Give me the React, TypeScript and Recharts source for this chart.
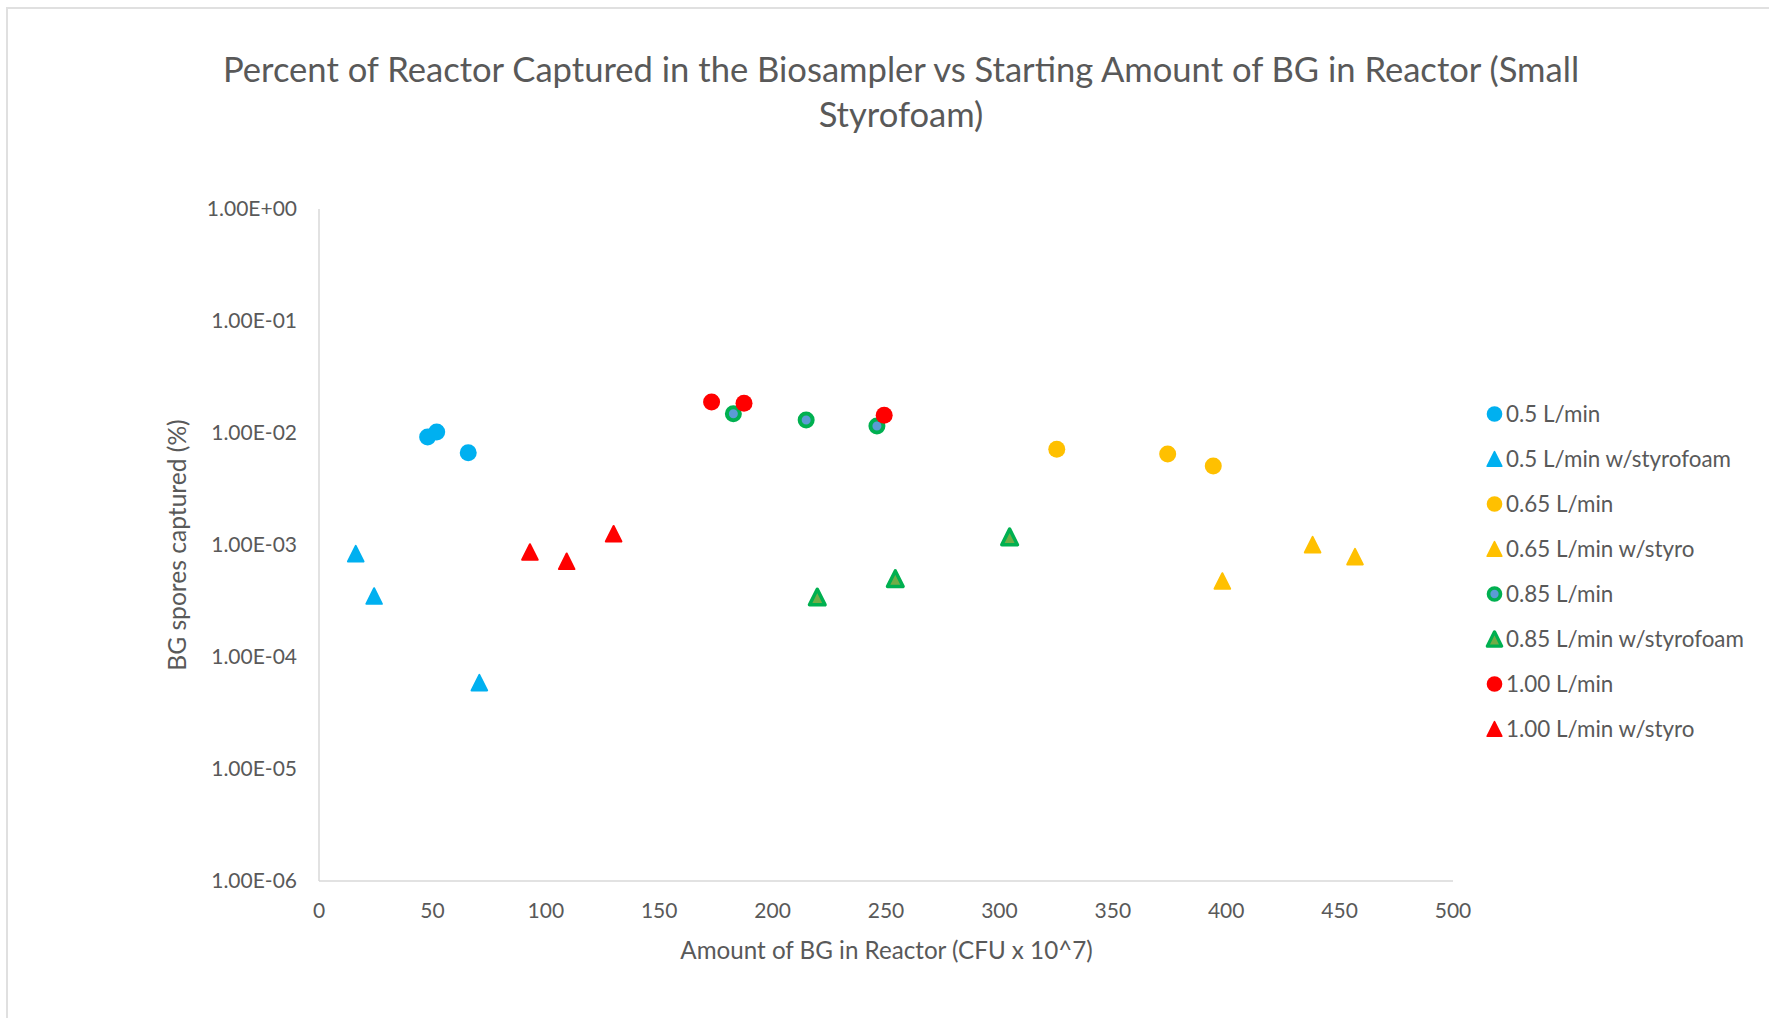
import React from "react"
import { ScatterChart, Scatter, XAxis, YAxis } from "recharts"

// x = amount of BG in reactor (CFU x 10^7), y = fraction of spores captured
const flow05X = [47.9, 51.9, 65.8]
const flow05Y = [0.0092, 0.0102, 0.00667]
const flow05StyroX = [16.2, 24.3, 70.7]
const flow05StyroY = [0.000836, 0.00035, 0.000059]
const flow065X = [325.3, 374.2, 394.3]
const flow065Y = [0.00715, 0.0065, 0.00507]
const flow065StyroX = [398.3, 438.1, 456.8]
const flow065StyroY = [0.000477, 0.001006, 0.000787]
const flow085X = [182.7, 214.8, 246.0]
const flow085Y = [0.01486, 0.01306, 0.01155]
const flow085StyroX = [219.7, 254.1, 304.5]
const flow085StyroY = [0.000343, 0.0005, 0.00118]
const flow100X = [173.1, 187.4, 249.2]
const flow100Y = [0.0189, 0.0184, 0.0144]
const flow100StyroX = [93.0, 109.2, 129.9]
const flow100StyroY = [0.000866, 0.000715, 0.00126]

const xTicks = [0, 50, 100, 150, 200, 250, 300, 350, 400, 450, 500]
const yTicks = [1e-6, 1e-5, 1e-4, 1e-3, 1e-2, 1e-1, 1]

const TEXT = "#595959"
const FONT = "Lato, 'Open Sans', sans-serif"

type Mark = "circle" | "triangle"
type SeriesDef = { name: string; xs: number[]; ys: number[]; mark: Mark; fill: string; stroke?: string }

const series: SeriesDef[] = [
  { name: "0.5 L/min", xs: flow05X, ys: flow05Y, mark: "circle", fill: "#00B0F0" },
  { name: "0.5 L/min w/styrofoam", xs: flow05StyroX, ys: flow05StyroY, mark: "triangle", fill: "#00B0F0" },
  { name: "0.65 L/min", xs: flow065X, ys: flow065Y, mark: "circle", fill: "#FFC000" },
  { name: "0.65 L/min w/styro", xs: flow065StyroX, ys: flow065StyroY, mark: "triangle", fill: "#FFC000" },
  { name: "0.85 L/min", xs: flow085X, ys: flow085Y, mark: "circle", fill: "#5B9BD5", stroke: "#00B050" },
  { name: "0.85 L/min w/styrofoam", xs: flow085StyroX, ys: flow085StyroY, mark: "triangle", fill: "#70AD47", stroke: "#00B050" },
  { name: "1.00 L/min", xs: flow100X, ys: flow100Y, mark: "circle", fill: "#FF0000" },
  { name: "1.00 L/min w/styro", xs: flow100StyroX, ys: flow100StyroY, mark: "triangle", fill: "#FF0000" },
]

const toPoints = (xs: number[], ys: number[]) => xs.map((x, i) => ({ x, y: ys[i] }))

const sci = (v: number) => {
  const e = Math.round(Math.log10(v))
  return `1.00E${e < 0 ? "-" : "+"}${String(Math.abs(e)).padStart(2, "0")}`
}

function Marker({ s, cx, cy, k = 1 }: { s: SeriesDef; cx: number; cy: number; k?: number }) {
  if (s.mark === "circle") {
    return s.stroke
      ? <circle cx={cx} cy={cy} r={6.5 * k} fill={s.fill} stroke={s.stroke} strokeWidth={4 * k} />
      : <circle cx={cx} cy={cy} r={8.5 * k} fill={s.fill} />
  }
  const h = 7.8 * k
  const d = `M${cx},${cy - h} L${cx + h},${cy + h} L${cx - h},${cy + h} Z`
  return s.stroke
    ? <path d={d} fill={s.fill} stroke={s.stroke} strokeWidth={3.5 * k} strokeLinejoin="round" />
    : <path d={d} fill={s.fill} stroke={s.fill} strokeWidth={2 * k} strokeLinejoin="round" />
}

function Legend() {
  return (
    <div style={{ position: "absolute", left: 1484, top: 402, fontFamily: FONT, fontSize: 22.4, color: TEXT }}>
      {series.map(s => (
        <div key={s.name} style={{ height: 45, display: "flex", alignItems: "flex-start" }}>
          <svg width={22} height={24}>
            <Marker s={s} cx={10.5} cy={12} k={0.92} />
          </svg>
          <span style={{ lineHeight: "24px", whiteSpace: "nowrap" }}>{s.name}</span>
        </div>
      ))}
    </div>
  )
}

export default function App() {
  return (
    <div style={{ position: "absolute", left: 0, top: 0, width: 1769, height: 1018, background: "#fff", fontFamily: FONT }}>
      <div style={{ position: "absolute", left: 6, top: 7, right: 0, bottom: 0, borderTop: "2px solid #e0e0e0", borderLeft: "2px solid #e0e0e0" }} />
      <div style={{ position: "absolute", left: 0, width: 1802, top: 46, textAlign: "center", fontSize: 34.6, color: TEXT, lineHeight: "45px" }}>
        Percent of Reactor Captured in the Biosampler vs Starting Amount of BG in Reactor (Small
        <br />
        Styrofoam)
      </div>
      <ScatterChart width={1769} height={1018} margin={{ top: 209, right: 316, bottom: 97, left: 219 }} style={{ position: "absolute", left: 0, top: 0 }}>
        <XAxis
          type="number" dataKey="x" domain={[0, 500]} ticks={xTicks} height={40}
          tickLine={false} tickSize={0} tickMargin={22}
          axisLine={{ stroke: "#d9d9d9", strokeWidth: 1.5 }}
          tick={{ fill: TEXT, fontSize: 21, fontFamily: FONT }}
        />
        <YAxis
          type="number" dataKey="y" scale="log" domain={[1e-6, 1]} ticks={yTicks} width={100}
          allowDataOverflow tickFormatter={sci}
          tickLine={false} tickSize={0} tickMargin={22}
          axisLine={{ stroke: "#d9d9d9", strokeWidth: 1.5 }}
          tick={{ fill: TEXT, fontSize: 21, fontFamily: FONT }}
        />
        {series.map(s => (
          <Scatter
            key={s.name} name={s.name} data={toPoints(s.xs, s.ys)} isAnimationActive={false}
            shape={(p: any) => <Marker s={s} cx={p.cx} cy={p.cy} />}
          />
        ))}
      </ScatterChart>
      <div style={{ position: "absolute", left: 0, width: 1773, top: 935, textAlign: "center", fontSize: 24.2, color: TEXT }}>
        Amount of BG in Reactor (CFU x 10^7)
      </div>
      <div style={{ position: "absolute", left: 176, top: 545, transform: "translate(-50%, -50%) rotate(-90deg)", fontSize: 24.6, color: TEXT, whiteSpace: "nowrap" }}>
        BG spores captured (%)
      </div>
      <Legend />
    </div>
  )
}
